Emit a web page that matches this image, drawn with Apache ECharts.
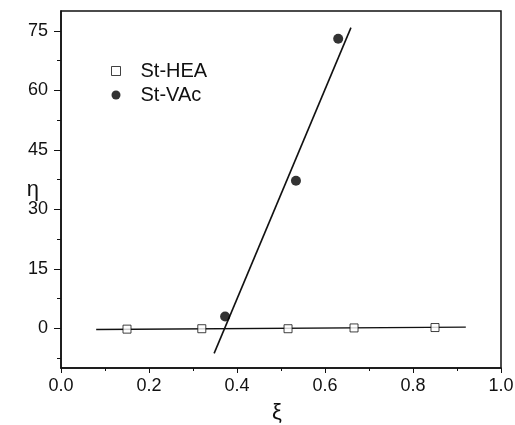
<!DOCTYPE html>
<html>
<head>
<meta charset="utf-8">
<script src="https://cdn.jsdelivr.net/npm/echarts@6/dist/echarts.min.js"></script>
<style>
  html, body { margin: 0; padding: 0; background: #fff; }
  #chart { width: 515px; height: 425px; }
</style>
</head>
<body>
<div id="chart"></div>
<script>
// measured points (xi, eta)
const heaPoints = [[0.15, -0.2], [0.32, -0.1], [0.516, -0.1], [0.666, 0.1], [0.85, 0.2]]
const vacPoints = [[0.373, 3.0], [0.534, 37.2], [0.63, 73.0]]
// fitted lines, end points as drawn
const heaFit = [[0.08, -0.3], [0.92, 0.3]]
const vacFit = [[0.348, -6.3], [0.659, 75.8]]

const yMajorTicks = [0, 15, 30, 45, 60, 75]
const yMinorTicks = [-7.5, 7.5, 22.5, 37.5, 52.5, 67.5]

const ink = '#111'
const font = "'Liberation Sans', Arial, sans-serif"

const chart = echarts.init(document.getElementById('chart'))

chart.setOption({
  backgroundColor: '#fff',
  animation: false,
  grid: {
    left: 61,
    right: 14,
    top: 11,
    bottom: 57,
    outerBoundsMode: 'none',
    show: true,
    borderColor: ink,
    borderWidth: 1.5
  },
  legend: {
    orient: 'vertical',
    left: 106,
    top: 56,
    itemWidth: 9,
    itemHeight: 9,
    itemGap: 4,
    textStyle: { color: ink, fontSize: 20, fontFamily: font, padding: [0, 0, 0, 15] },
    data: [
      { name: 'St-HEA', icon: 'rect', itemStyle: { color: '#fff', borderColor: ink, borderWidth: 1 } },
      { name: 'St-VAc', icon: 'circle', itemStyle: { color: '#000' } }
    ]
  },
  xAxis: {
    type: 'value',
    min: 0,
    max: 1,
    interval: 0.2,
    name: 'ξ',
    nameLocation: 'middle',
    nameGap: 34,
    nameMoveOverlap: false,
    nameTextStyle: { color: ink, fontSize: 22, fontFamily: font, padding: [0, 8, 0, 0] },
    axisLine: { show: true, onZero: false, lineStyle: { color: ink, width: 1.5 } },
    axisTick: { show: true, length: 5, lineStyle: { color: ink } },
    minorTick: { show: true, splitNumber: 2, length: 3, lineStyle: { color: ink } },
    axisLabel: {
      color: ink,
      fontSize: 18,
      fontFamily: font,
      margin: 9,
      formatter: v => v.toFixed(1)
    },
    splitLine: { show: false }
  },
  yAxis: [
    {
      type: 'value',
      min: -10,
      max: 80,
      name: 'η',
      nameLocation: 'middle',
      nameRotate: 0,
      nameGap: 22,
      nameMoveOverlap: false,
      nameTextStyle: { color: ink, fontSize: 22, fontFamily: font },
      axisLine: { show: true, onZero: false, lineStyle: { color: ink, width: 1.5 } },
      axisTick: { show: true, length: 7, customValues: yMajorTicks, lineStyle: { color: ink } },
      axisLabel: {
        color: ink,
        fontSize: 18,
        fontFamily: font,
        margin: 13,
        customValues: yMajorTicks
      },
      splitLine: { show: false }
    },
    {
      type: 'value',
      min: -10,
      max: 80,
      position: 'left',
      axisLine: { show: false, onZero: false },
      axisTick: { show: true, length: 4, customValues: yMinorTicks, lineStyle: { color: ink } },
      axisLabel: { show: false },
      splitLine: { show: false }
    }
  ],
  series: [
    {
      name: 'HEA fit',
      type: 'line',
      data: heaFit,
      symbol: 'none',
      lineStyle: { color: ink, width: 1.3 },
      z: 2
    },
    {
      name: 'VAc fit',
      type: 'line',
      data: vacFit,
      symbol: 'none',
      lineStyle: { color: ink, width: 1.6 },
      z: 2
    },
    {
      name: 'St-HEA',
      type: 'scatter',
      data: heaPoints,
      symbol: 'rect',
      symbolSize: 8,
      itemStyle: { color: '#fff', borderColor: ink, borderWidth: 1 },
      z: 3
    },
    {
      name: 'St-VAc',
      type: 'scatter',
      data: vacPoints,
      symbol: 'circle',
      symbolSize: 10,
      itemStyle: { color: '#000' },
      z: 3
    }
  ]
})
</script>
</body>
</html>
